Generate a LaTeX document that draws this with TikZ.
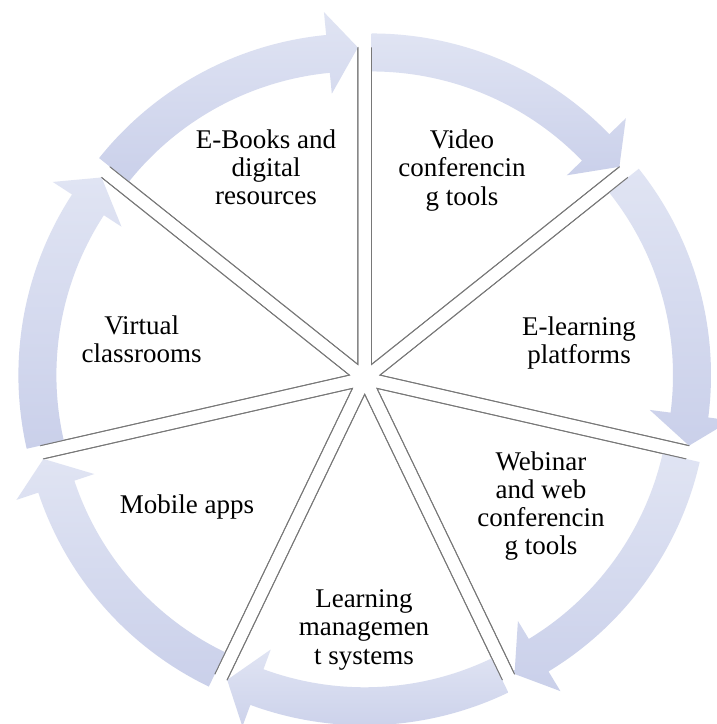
\documentclass[tikz,border=0pt]{standalone}
\usepackage{fontspec}
\setmainfont{Liberation Serif}
\usetikzlibrary{calc}
\definecolor{arrowlight}{RGB}{224,228,243}
\definecolor{arrowdark}{RGB}{202,208,234}
\definecolor{edgegray}{RGB}{120,120,120}
\begin{document}
\begin{tikzpicture}[x=1pt,y=1pt,
  wedgebox/.style={fill=white,draw=edgegray,line width=0.9pt,line join=miter},
  edgeline/.style={draw=edgegray,line width=0.9pt,line join=miter},
  ringarrow/.style={top color=arrowlight,bottom color=arrowdark,draw=none},
  itemtext/.style={font=\fontsize{27}{28.3}\selectfont,align=center,text=black,inner sep=0pt}]
\useasboundingbox[fill=white] (0,0) rectangle (717,724);
\coordinate (C) at (364.7,345.4);
\foreach \i in {0,...,6}{
  \pgfmathsetmacro\bb{115.7143-\i*51.4286}
  \coordinate (T\i) at ($(C)+(\bb:15.7)$);
}
% wedges
\foreach \i in {0,...,6}{
  \pgfmathsetmacro\aa{141.4286-\i*51.4286}
  \pgfmathsetmacro\ab{\aa-51.4286}
  \path[wedgebox] (T\i) -- ++(\aa:317) arc[start angle=\aa, end angle=\ab, radius=317] -- cycle;
}
% circular arrows
\foreach \i in {0,...,6}{
  \pgfmathsetmacro\aa{141.4286-\i*51.4286}
  \pgfmathsetmacro\ab{\aa-51.4286}
  \pgfmathsetmacro\hb{\ab+5.5}
  \path[ringarrow,shift={(T\i)}] (\aa:331) arc[start angle=\aa,end angle=\hb,radius=331]
     -- (\hb:354) -- (\ab:317) -- (\hb:272) -- (\hb:293)
     arc[start angle=\hb,end angle=\aa,radius=293] -- cycle;
}
% straight wedge edges on top
\foreach \i in {0,...,6}{
  \pgfmathsetmacro\aa{141.4286-\i*51.4286}
  \pgfmathsetmacro\ab{\aa-51.4286}
  \draw[edgeline] ($(T\i)+(\aa:317)$) -- (T\i) -- ($(T\i)+(\ab:317)$);
}
% texts
\node[itemtext] (ebooks) at (266,556.7) {E-Books and\\digital\\resources};
\node[itemtext] (video) at (462,553.7) {Video\\conferencin\\g tools};
\node[itemtext] (elearn) at (579,380.7) {E-learning\\platforms};
\node[itemtext] (webinar) at (541,218) {Webinar\\and web\\conferencin\\g tools};
\node[itemtext] (lms) at (364,94.3) {Learning\\managemen\\t systems};
\node[itemtext] (mobile) at (187,217) {Mobile apps};
\node[itemtext] (virtual) at (141.7,384.4) {Virtual\\classrooms};
\end{tikzpicture}
\end{document}
